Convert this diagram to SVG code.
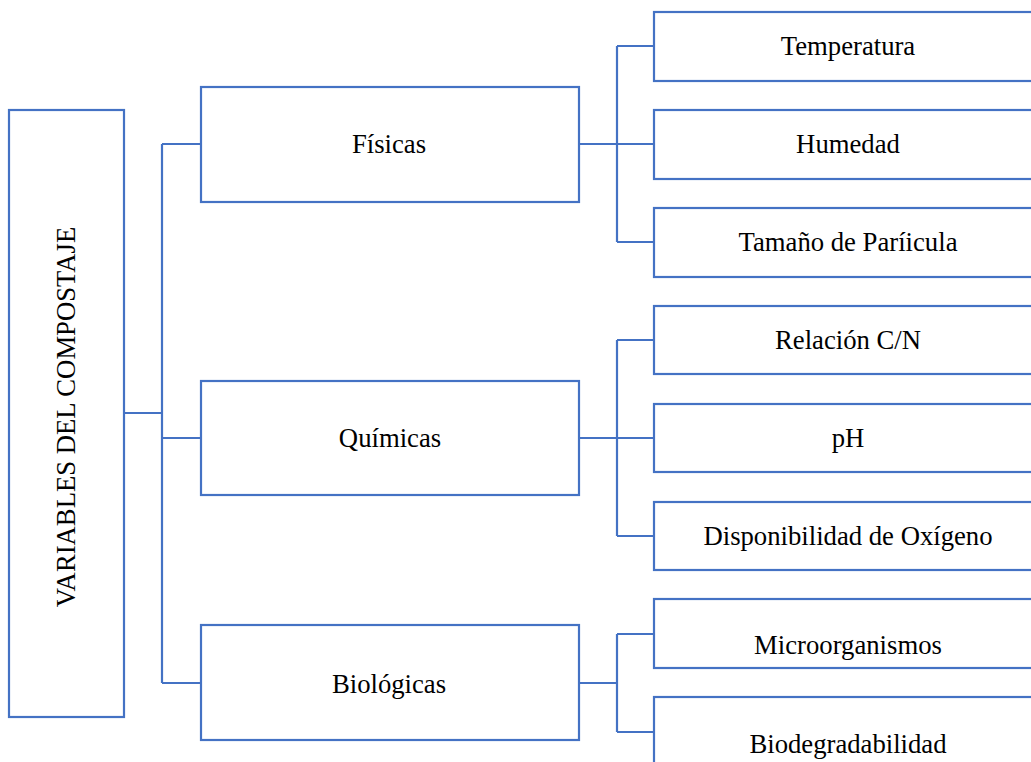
<svg xmlns="http://www.w3.org/2000/svg" width="1031" height="762" viewBox="0 0 1031 762">
<style>
.b{fill:#fff;stroke:#4472C4;stroke-width:2.2}
.c{fill:none;stroke:#4472C4;stroke-width:2.2}
text{font-family:"Liberation Serif","Times New Roman",serif;font-size:26.7px;fill:#000;text-anchor:middle}
</style>
<rect width="1031" height="762" fill="#fff"/>
<g id="connectors">
<path class="c" d="M124 413H162M162 144V683M162 144H201M162 438H201M162 683H201"/>
<path class="c" d="M579 144H617M617 46V242M617 46H654M617 144H654M617 242H654"/>
<path class="c" d="M579 438H617M617 340V536M617 340H654M617 438H654M617 536H654"/>
<path class="c" d="M579 683H617M617 634V732M617 634H654M617 732H654"/>
</g>
<g id="root"><rect class="b" x="9" y="110" width="115" height="607"/><text transform="translate(75,417) rotate(-90)">VARIABLES DEL COMPOSTAJE</text></g>
<g id="fisicas"><rect class="b" x="201" y="87" width="378" height="115"/><text x="389" y="153">Físicas</text></g>
<g id="quimicas"><rect class="b" x="201" y="381" width="378" height="114"/><text x="390" y="447">Químicas</text></g>
<g id="biologicas"><rect class="b" x="201" y="625" width="378" height="115"/><text x="389" y="693">Biológicas</text></g>
<g id="temperatura"><rect class="b" x="654" y="12" width="390" height="69"/><text x="848" y="55">Temperatura</text></g>
<g id="humedad"><rect class="b" x="654" y="110" width="390" height="69"/><text x="848" y="153">Humedad</text></g>
<g id="tamano"><rect class="b" x="654" y="208" width="390" height="69"/><text x="848" y="251">Tamaño de Paríicula</text></g>
<g id="relacion"><rect class="b" x="654" y="306" width="390" height="68"/><text x="848" y="349">Relación C/N</text></g>
<g id="ph"><rect class="b" x="654" y="404" width="390" height="68"/><text x="848" y="447">pH</text></g>
<g id="oxigeno"><rect class="b" x="654" y="502" width="390" height="68"/><text x="848" y="545">Disponibilidad de Oxígeno</text></g>
<g id="micro"><rect class="b" x="654" y="599" width="390" height="69"/><text x="848" y="654">Microorganismos</text></g>
<g id="biodeg"><rect class="b" x="654" y="697" width="390" height="69"/><text x="848" y="753">Biodegradabilidad</text></g>
</svg>
